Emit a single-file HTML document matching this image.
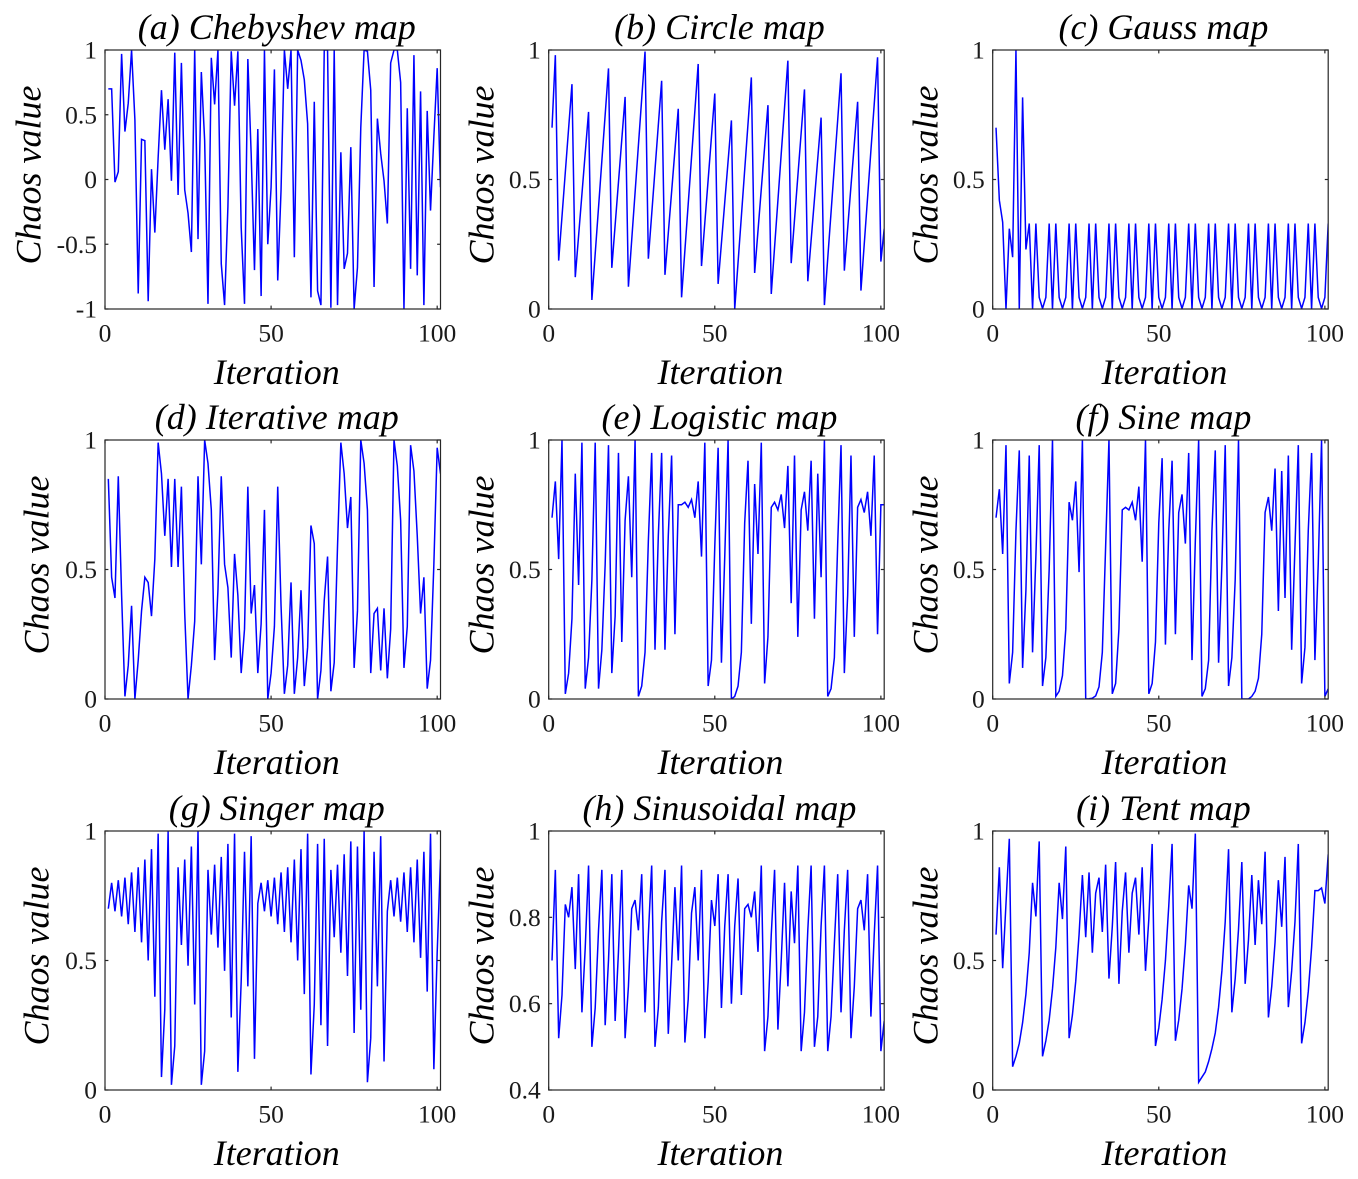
<!DOCTYPE html>
<html lang="en">
<head>
<meta charset="utf-8">
<title>Chaotic maps</title>
<style>
html,body{margin:0;padding:0;background:#fff;}
#figure{display:block;width:1358px;height:1179px;}
text{font-family:"Liberation Serif","Times New Roman",serif;fill:#000;}
.tick{font-size:25.5px;fill:#1a1a1a;}
.lab{font-size:36px;font-style:italic;}
</style>
</head>
<body>
<svg id="figure" xmlns="http://www.w3.org/2000/svg" width="1358" height="1179" viewBox="0 0 1358 1179"></svg>
<script>
const iterationTicks = [0, 50, 100];
const iterationRange = [0, 101];
const ticksSigned = [-1, -0.5, 0, 0.5, 1];
const ticksUnit = [0, 0.5, 1];
const ticksSinusoidal = [0.4, 0.6, 0.8, 1];
const rangeSigned = [-1, 1];
const rangeUnit = [0, 1];
const rangeSinusoidal = [0.4, 1];
const titles = ["(a) Chebyshev map","(b) Circle map","(c) Gauss map","(d) Iterative map","(e) Logistic map","(f) Sine map","(g) Singer map","(h) Sinusoidal map","(i) Tent map"];

const chebyshevValues = [
.7,.7,-.02,.06,.97,.37,.59,1,.46,-.88,
.31,.3,-.94,.08,-.41,.17,.69,.23,.62,-.01,
.98,-.12,.9,-.08,-.26,-.56,1,-.46,.83,.3,
-.96,.94,.58,1,-.65,-.97,-.21,.99,.57,.99,
-.37,-.96,.93,.2,-.7,.39,-.9,1,-.5,-.06,
.85,-.78,-.08,1,.7,1,-.6,1,.92,.77,
.43,-.91,.6,-.86,-.97,1,1,-.99,1,-.97,
.21,-.69,-.57,.25,-1,-.68,.4,1,.99,.69,
-.83,.47,.2,-.01,-.34,.9,1,1,.75,-1,
.55,-.69,.96,-.74,.68,-.97,.53,-.24,.33,.86,
-.06];

const circleValues = [
.7,.98,.187,.357,.528,.698,.868,.123,.283,.443,
.603,.761,.035,.213,.392,.572,.75,.929,.159,.324,
.489,.654,.819,.086,.268,.449,.631,.812,.994,.194,
.365,.538,.71,.881,.132,.292,.452,.613,.773,.045,
.226,.405,.586,.765,.946,.166,.333,.499,.666,.832,
.097,.254,.412,.57,.728,0,.179,.357,.537,.715,
.894,.139,.301,.463,.625,.787,.058,.239,.418,.599,
.778,.959,.177,.345,.512,.68,.848,.107,.265,.423,
.581,.739,.015,.195,.373,.552,.73,.91,.148,.311,
.475,.637,.8,.071,.252,.431,.612,.791,.972,.183,
.31];

const gaussValues = [
.7,.42,.335,0,.31,.2,1,0,.817,.23,
.33,0,.33,.045,.002,.045,
.33,0,.33,.045,.002,.045,
.33,0,.33,.045,.002,.045,
.33,0,.33,.045,.002,.045,
.33,0,.33,.045,.002,.045,
.33,0,.33,.045,.002,.045,
.33,0,.33,.045,.002,.045,
.33,0,.33,.045,.002,.045,
.33,0,.33,.045,.002,.045,
.33,0,.33,.045,.002,.045,
.33,0,.33,.045,.002,.045,
.33,0,.33,.045,.002,.045,
.33,0,.33,.045,.002,.045,
.33,0,.33,.045,.002,.045,
.33,0,.33,.045,.002,.045,
.33];

const iterativeValues = [
.85,.47,.39,.86,.4,.01,.13,.36,0,.15,
.34,.47,.45,.32,.54,.99,.87,.63,.85,.51,
.85,.51,.82,.33,0,.13,.3,.86,.52,1,
.91,.73,.15,.42,.86,.52,.43,.16,.56,.4,
.1,.27,.82,.33,.44,.1,.29,.73,0,.1,
.28,.82,.36,.02,.13,.45,.02,.16,.42,.05,
.2,.67,.6,0,.11,.38,.55,.03,.14,.59,
.99,.87,.66,.78,.12,.34,1,.91,.73,.1,
.33,.35,.11,.35,.08,.27,1,.9,.69,.12,
.28,.98,.88,.63,.33,.47,.04,.15,.52,.97,
.87];

const logisticValues = [
.7,.84,.54,1,.02,.1,.31,.87,.44,.99,
.04,.16,.46,.99,.04,.19,.52,.98,.1,.32,
.95,.22,.69,.86,.47,1,.01,.05,.18,.61,
.95,.19,.63,.95,.19,.63,.94,.25,.75,.75,
.76,.74,.77,.7,.84,.55,.99,.05,.15,.59,
.97,.14,.55,1,0,.01,.05,.18,.68,.92,
.29,.83,.56,.99,.06,.24,.74,.76,.73,.79,
.66,.9,.37,.94,.24,.73,.8,.65,.92,.31,
.87,.47,1,.01,.04,.16,.6,.98,.1,.4,
.94,.24,.74,.77,.72,.8,.63,.94,.25,.75,
.75];

const sineValues = [
.7,.81,.56,.98,.06,.18,.65,.96,.12,.42,
.94,.18,.55,.98,.05,.16,.5,1,.01,.03,
.09,.27,.76,.69,.84,.49,1,0,.001,.003,
.012,.047,.18,.59,1,.02,.06,.27,.73,.74,
.73,.76,.69,.82,.53,1,.02,.06,.22,.68,
.93,.21,.65,.92,.25,.72,.79,.6,.95,.15,
.61,1,.01,.04,.15,.65,.96,.14,.52,.98,
.05,.16,.46,1,0,0,0,.01,.03,.08,
.25,.72,.78,.65,.89,.34,.88,.39,.94,.19,
.59,.98,.06,.2,.65,.95,.15,.52,1,.01,
.04];

const singerValues = [
.7,.8,.69,.81,.67,.82,.64,.84,.61,.86,
.57,.89,.5,.93,.36,.99,.05,.31,1,.02,
.17,.86,.56,.89,.48,.94,.33,1,.02,.15,
.85,.6,.87,.55,.9,.46,.95,.28,.99,.07,
.42,.92,.4,.98,.12,.72,.8,.69,.81,.67,
.82,.64,.84,.61,.86,.57,.89,.5,.93,.37,
.99,.06,.33,.95,.25,.97,.17,.85,.59,.87,
.53,.91,.44,.96,.22,.94,.31,1,.03,.2,
.92,.4,.98,.11,.69,.81,.67,.82,.65,.84,
.61,.86,.57,.89,.51,.92,.38,.99,.08,.53,
.89];

const sinusoidalValues = [
.7,.91,.52,.62,.83,.8,.87,.68,.9,.58,
.73,.92,.5,.59,.77,.91,.55,.7,.9,.56,
.72,.91,.52,.64,.82,.84,.77,.9,.58,.76,
.92,.5,.59,.79,.91,.53,.69,.87,.7,.92,
.51,.61,.81,.87,.7,.91,.52,.65,.84,.78,
.9,.59,.78,.9,.6,.78,.89,.62,.82,.83,
.8,.86,.72,.92,.49,.57,.76,.91,.54,.7,
.88,.64,.86,.74,.92,.49,.58,.77,.92,.5,
.57,.78,.92,.49,.57,.74,.9,.58,.77,.91,
.52,.64,.82,.84,.77,.9,.57,.76,.92,.49,
.56];

const tentValues = [
.6,.86,.47,.72,.97,.09,.13,.18,.26,.37,
.53,.8,.67,.96,.13,.19,.27,.39,.55,.8,
.66,.94,.2,.29,.42,.6,.83,.59,.84,.53,
.76,.82,.61,.87,.43,.63,.88,.41,.69,.84,
.53,.76,.82,.6,.86,.46,.66,.95,.17,.24,
.35,.5,.71,.95,.19,.27,.39,.56,.79,.7,
.99,.03,.05,.07,.11,.16,.22,.32,.46,.65,
.93,.3,.43,.62,.88,.41,.58,.83,.56,.81,
.64,.92,.28,.4,.57,.81,.63,.9,.32,.46,
.65,.95,.18,.26,.38,.55,.77,.77,.78,.72,
.91];

const panelSeries = [chebyshevValues,circleValues,gaussValues,iterativeValues,logisticValues,sineValues,singerValues,sinusoidalValues,tentValues];
const panelRanges = [rangeSigned,rangeUnit,rangeUnit,rangeUnit,rangeUnit,rangeUnit,rangeUnit,rangeSinusoidal,rangeUnit];
const panelTicks = [ticksSigned,ticksUnit,ticksUnit,ticksUnit,ticksUnit,ticksUnit,ticksUnit,ticksSinusoidal,ticksUnit];

const SVGNS = "http://www.w3.org/2000/svg";
const fig = document.getElementById("figure");
const colLeft = [105, 548.7, 992.7];
const rowTop = [50, 440, 831];
const boxW = 335.5, boxH = 259;
const yLabelX = [40.5, 493.5, 937.5];

function make(tag, parent, attrs, txt) {
  const e = document.createElementNS(SVGNS, tag);
  for (const k in attrs) e.setAttribute(k, attrs[k]);
  if (txt !== undefined) e.textContent = txt;
  parent.appendChild(e);
  return e;
}
function fmt(v){ return String(v); }

panelSeries.forEach(function(values, idx){
  const col = idx % 3, row = Math.floor(idx / 3);
  const L = colLeft[col], T = rowTop[row], R = L + boxW, B = T + boxH;
  const range = panelRanges[idx];
  const xScale = function(v){ return L + (v - iterationRange[0]) / (iterationRange[1] - iterationRange[0]) * boxW; };
  const yScale = function(v){ return B - (v - range[0]) / (range[1] - range[0]) * boxH; };

  const g = make("g", fig, {});
  
  

  const clip = make("clipPath", g, {id: "clip" + idx});
  make("rect", clip, {x: L, y: T, width: boxW, height: boxH});

  const line = make("polyline", g, {
    points: values.map(function(v, i){ return xScale(i + 1).toFixed(2) + "," + yScale(v).toFixed(2); }).join(" "),
    fill: "none", stroke: "#0000ff", "stroke-width": 1.5, "stroke-linejoin": "miter",
    "clip-path": "url(#clip" + idx + ")"
  });
  
  

  const box = make("rect", g, {x: L, y: T, width: boxW, height: boxH, fill: "none", stroke: "#262626", "stroke-width": 1.2});
  
  

  iterationTicks.forEach(function(t){
    const x = xScale(t);
    const m1 = make("line", g, {x1: x, x2: x, y1: B, y2: B - 3.4, stroke: "#262626", "stroke-width": 1.2});
    
    
    const m2 = make("line", g, {x1: x, x2: x, y1: T, y2: T + 3.4, stroke: "#262626", "stroke-width": 1.2});
    
    
    const lbl = make("text", g, {x: x, y: B + 32.5, "text-anchor": "middle", "class": "tick"}, fmt(t));
    
    
  });

  panelTicks[idx].forEach(function(t){
    const y = yScale(t);
    const m1 = make("line", g, {x1: L, x2: L + 3.4, y1: y, y2: y, stroke: "#262626", "stroke-width": 1.2});
    
    
    const m2 = make("line", g, {x1: R, x2: R - 3.4, y1: y, y2: y, stroke: "#262626", "stroke-width": 1.2});
    
    
    const lbl = make("text", g, {x: L - 8, y: y + 8.5, "text-anchor": "end", "class": "tick"}, fmt(t));
    
    
  });

  const title = make("text", g, {x: L + boxW / 2 + 4 - (col > 0 ? 1 : 0), y: T - 11, "text-anchor": "middle", "class": "lab"}, titles[idx]);
  
  

  const xTitle = make("text", g, {x: L + boxW / 2 + 4, y: B + 75, "text-anchor": "middle", "class": "lab"}, "Iteration");
  
  

  const yX = (idx === 0) ? yLabelX[0] : (col === 0 ? 48.5 : yLabelX[col]);
  const yC = T + boxH / 2 - 4.5;
  const yTitle = make("text", g, {x: yX, y: yC, "text-anchor": "middle", "class": "lab", transform: "rotate(-90 " + yX + " " + yC + ")"}, "Chaos value");
  
  
});
</script>
</body>
</html>
